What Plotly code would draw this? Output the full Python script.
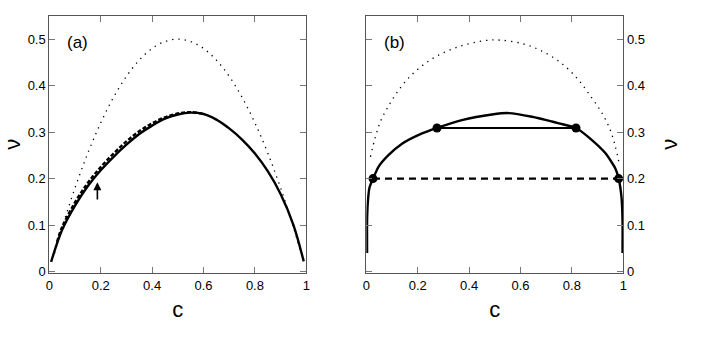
import plotly.graph_objects as go

# panel (a)
a_c_solid = [0.007, 0.05, 0.1, 0.15, 0.2, 0.25, 0.3, 0.35, 0.4, 0.45, 0.5, 0.55,
             0.6, 0.65, 0.7, 0.75, 0.8, 0.85, 0.9, 0.95, 0.99]
a_v_solid = [0.021, 0.09, 0.142, 0.184, 0.218, 0.247, 0.273, 0.296, 0.314, 0.329, 0.338, 0.342,
             0.339, 0.327, 0.308, 0.284, 0.254, 0.216, 0.167, 0.100, 0.022]
a_c_dash = [0.03, 0.05, 0.1, 0.15, 0.2, 0.25, 0.3, 0.35, 0.4, 0.45, 0.5, 0.55, 0.6]
a_v_dash = [0.064, 0.096, 0.149, 0.191, 0.225, 0.254, 0.280, 0.302, 0.319, 0.332, 0.340, 0.343, 0.339]
a_c_dot = [0.02, 0.05, 0.1, 0.15, 0.2, 0.25, 0.3, 0.35, 0.4, 0.45, 0.5, 0.55,
           0.6, 0.65, 0.7, 0.75, 0.8, 0.85, 0.9, 0.95, 0.98]
a_v_dot = [0.039, 0.095, 0.18, 0.255, 0.32, 0.375, 0.42, 0.455, 0.48, 0.495, 0.5, 0.495,
           0.48, 0.455, 0.42, 0.375, 0.32, 0.255, 0.18, 0.095, 0.039]

# panel (b)
b_c_solid = [0.003, 0.003, 0.006, 0.012, 0.026, 0.048, 0.087, 0.139, 0.204, 0.275, 0.372, 0.489,
             0.554, 0.645, 0.749, 0.816, 0.878, 0.930, 0.969, 0.982, 0.993, 0.997, 0.997]
b_v_solid = [0.04, 0.11, 0.15, 0.18, 0.2, 0.226, 0.251, 0.275, 0.294, 0.309, 0.326, 0.338,
             0.341, 0.333, 0.319, 0.309, 0.283, 0.255, 0.222, 0.2, 0.16, 0.11, 0.04]
b_c_dot = [0.016, 0.035, 0.055, 0.081, 0.113, 0.152, 0.204, 0.269, 0.36, 0.463, 0.521,
           0.61, 0.681, 0.76, 0.826, 0.878, 0.917, 0.949, 0.969, 0.984]
b_v_dot = [0.247, 0.289, 0.323, 0.351, 0.38, 0.409, 0.437, 0.462, 0.484, 0.497, 0.498,
           0.49, 0.475, 0.448, 0.412, 0.373, 0.341, 0.305, 0.269, 0.233]
b_tie_c = [0.275, 0.816]
b_tie_v = [0.309, 0.309]
b_dash_c = [0.026, 0.982]
b_dash_v = [0.2, 0.2]

x_ticks = [0, 0.2, 0.4, 0.6, 0.8, 1]
x_labels = ["0", "0.2", "0.4", "0.6", "0.8", "1"]
y_ticks = [0, 0.1, 0.2, 0.3, 0.4, 0.5]
y_labels = ["0", "0.1", "0.2", "0.3", "0.4", "0.5"]

FONT = "Liberation Sans, Arial, sans-serif"
dotted = "1.3px,5px"

fig = go.Figure()

fig.add_trace(go.Scatter(x=a_c_dot, y=a_v_dot, mode="lines", line_shape="spline",
                         line=dict(color="black", width=1.3, dash=dotted), xaxis="x", yaxis="y"))
fig.add_trace(go.Scatter(x=a_c_dash, y=a_v_dash, mode="lines", line_shape="spline",
                         line=dict(color="black", width=2.4, dash="4px,2px"), xaxis="x", yaxis="y"))
fig.add_trace(go.Scatter(x=a_c_solid, y=a_v_solid, mode="lines", line_shape="spline",
                         line=dict(color="black", width=2.4), xaxis="x", yaxis="y"))

fig.add_trace(go.Scatter(x=b_c_dot, y=b_v_dot, mode="lines", line_shape="spline",
                         line=dict(color="black", width=1.3, dash=dotted), xaxis="x2", yaxis="y2"))
fig.add_trace(go.Scatter(x=b_c_solid, y=b_v_solid, mode="lines", line_shape="spline",
                         line=dict(color="black", width=2.4, smoothing=0.6), xaxis="x2", yaxis="y2"))
fig.add_trace(go.Scatter(x=b_tie_c, y=b_tie_v, mode="lines+markers",
                         line=dict(color="black", width=2),
                         marker=dict(color="black", size=9), xaxis="x2", yaxis="y2"))
fig.add_trace(go.Scatter(x=b_dash_c, y=b_dash_v, mode="lines+markers",
                         line=dict(color="black", width=2.2, dash="7px,5px"),
                         marker=dict(color="black", size=9), xaxis="x2", yaxis="y2"))

axis_common = dict(showgrid=False, zeroline=False, ticks="inside", ticklen=6, automargin=False,
                   tickcolor="#777", linecolor="#555", linewidth=1, mirror="allticks",
                   showline=True, tickfont=dict(family=FONT, size=13, color="black"))

xa = dict(axis_common, range=[0, 1], tickvals=x_ticks, ticktext=x_labels,
          title=dict(text="c", font=dict(family=FONT, size=22, color="black"), standoff=10))
ya = dict(axis_common, range=[-0.003, 0.5505], tickvals=y_ticks, ticktext=y_labels,
          title=dict(text="ν", font=dict(family=FONT, size=22, color="black"), standoff=17))

fig.update_layout(
    width=718, height=342,
    margin=dict(l=0, r=0, t=0, b=0),
    paper_bgcolor="white", plot_bgcolor="white",
    showlegend=False,
    xaxis=dict(xa, domain=[0.0687, 0.4266], anchor="y"),
    yaxis=dict(ya, domain=[0.2018, 0.9541], anchor="x"),
    xaxis2=dict(xa, domain=[0.5102, 0.8681], anchor="y2"),
    yaxis2=dict(ya, domain=[0.2018, 0.9541], anchor="x2", side="right"),
    annotations=[
        dict(text="(a)", x=0.06, y=0.492, xref="x", yref="y", showarrow=False,
             xanchor="left", yanchor="middle", font=dict(family=FONT, size=17, color="black")),
        dict(text="(b)", x=0.06, y=0.492, xref="x2", yref="y2", showarrow=False,
             xanchor="left", yanchor="middle", font=dict(family=FONT, size=17, color="black")),
        dict(text="", x=0.187, y=0.192, ax=0.187, ay=0.152, xref="x", yref="y",
             axref="x", ayref="y", showarrow=True, arrowhead=2, arrowsize=1,
             arrowwidth=1.6, arrowcolor="black"),
    ],
)

# page body has an 8px default margin; drop it so the figure sits at the window corner
fig.write_html("out.html", config={"displayModeBar": False},
               post_script="document.body.style.margin='0';")
